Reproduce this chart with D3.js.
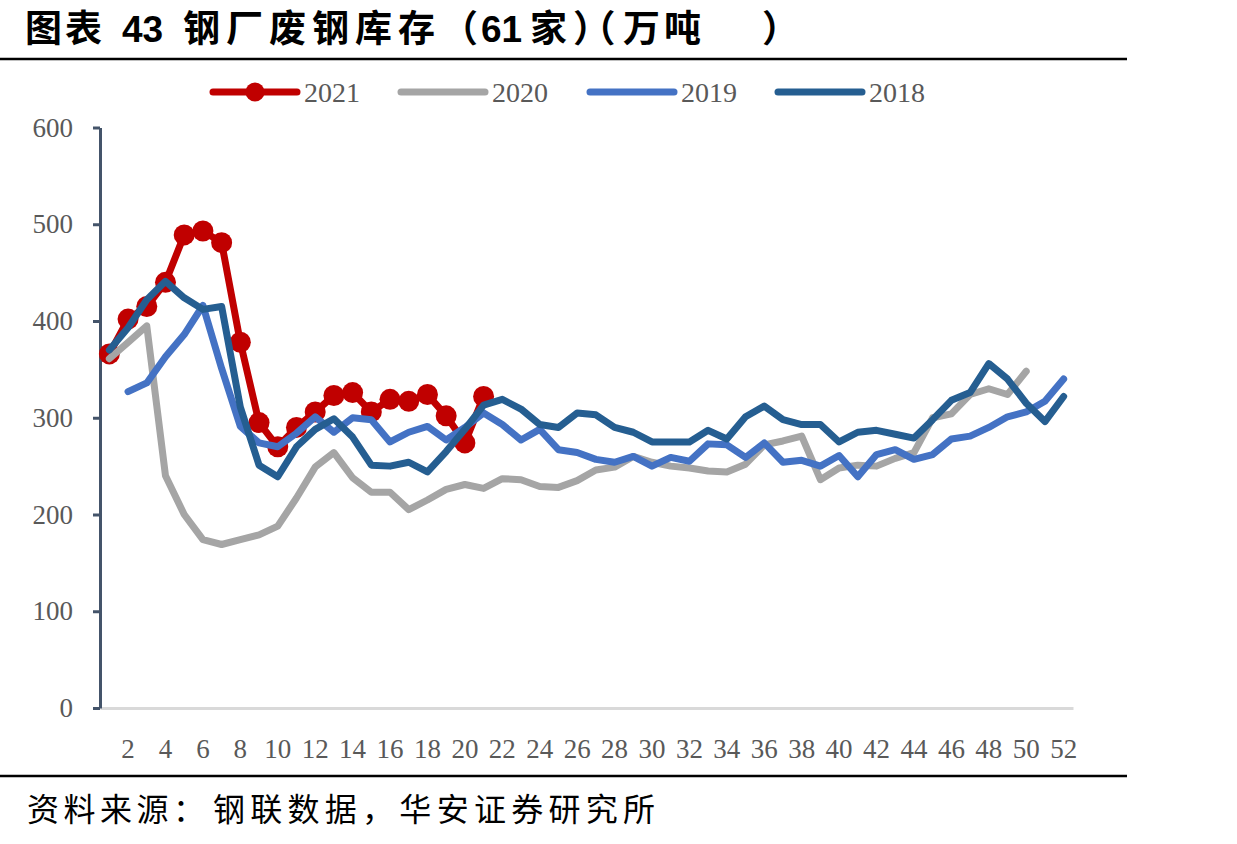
<!DOCTYPE html>
<html>
<head>
<meta charset="utf-8">
<script src="https://cdn.jsdelivr.net/npm/d3@7"></script>
<style>
  body { margin: 0; background: #fff; }
  svg text { font-family: "Liberation Serif", "DejaVu Serif", serif; }
</style>
</head>
<body>
<div id="chart"></div>
<script>
// weeks (categories) and series values
var weeks = d3.range(1, 53);
var xTickLabels = d3.range(2, 53, 2);
var yTicks = [0, 100, 200, 300, 400, 500, 600];
var seriesNames = ['2021', '2020', '2019', '2018'];
var seriesColors = ['#C00000', '#A5A5A5', '#4472C4', '#255E91'];

var v2021 = [366, 402, 415, 440, 489, 493, 481, 378, 295, 270, 290, 306, 323, 326, 306, 319, 317, 324, 302, 274, 322];
var v2020 = [361, 378, 395, 240, 200, 174, 169, 174, 179, 188, 217, 249, 264, 238, 223, 223, 205, 215, 226, 231,
             227, 237, 236, 229, 228, 235, 246, 249, 260, 254, 250, 248, 245, 244, 252, 272, 276, 281, 236, 248,
             251, 250, 258, 264, 300, 304, 324, 330, 324, 348];
var v2019 = [null, 327, 336, 363, 386, 416, 351, 291, 274, 270, 284, 301, 285, 300, 298, 275, 285, 291, 277, 290,
             305, 293, 277, 288, 267, 264, 257, 254, 260, 250, 259, 255, 273, 272, 259, 274, 254, 256, 250, 261,
             239, 262, 267, 257, 262, 278, 281, 290, 301, 306, 317, 340];
var v2018 = [370, 393, 422, 441, 424, 412, 415, 311, 251, 239, 270, 288, 299, 280, 251, 250, 254, 244, 265, 288,
             313, 319, 309, 293, 290, 305, 303, 290, 285, 275, 275, 275, 287, 278, 301, 312, 298, 293, 293, 275,
             285, 287, 283, 279, 298, 318, 326, 356, 340, 315, 296, 322];

var seriesValues = [v2021, v2020, v2019, v2018];

var width = 1237, height = 844;

var svg = d3.select('#chart')
  .append('svg')
  .attr('width', width)
  .attr('height', height);

// title
var title = svg.append('text')
  .attr('y', 42)
  .style('font-size', '37px')
  .style('font-weight', 'bold')
  .style('fill', '#000');
var cjk = '"Noto Sans CJK SC", sans-serif';
var num = '"Liberation Sans", Arial, sans-serif';
[
  { t: '图表', x: 25, f: cjk, ls: 3 },
  { t: '43', x: 122, f: num, ls: 0 },
  { t: '钢厂废钢库存', x: 183, f: cjk, ls: 6 },
  { t: '（', x: 441, f: cjk, ls: 0 },
  { t: '61', x: 481, f: num, ls: 0 },
  { t: '家', x: 530, f: cjk, ls: 0 },
  { t: '）（', x: 573, f: cjk, ls: -13 },
  { t: '万吨', x: 623, f: cjk, ls: 4 },
  { t: '）', x: 762, f: cjk, ls: 0 }
].forEach(function(p) {
  title.append('tspan')
    .attr('x', p.x)
    .style('font-family', p.f)
    .style('letter-spacing', p.ls + 'px')
    .text(p.t);
});

// rules above and below the chart
svg.append('line').attr('x1', 0).attr('x2', 1127).attr('y1', 59).attr('y2', 59)
  .style('stroke', '#000').style('stroke-width', 2.5);
svg.append('line').attr('x1', 0).attr('x2', 1127).attr('y1', 776).attr('y2', 776)
  .style('stroke', '#000').style('stroke-width', 2.5);

// source
var source = svg.append('text')
  .attr('y', 821)
  .style('font-size', '32px')
  .style('font-family', cjk)
  .style('fill', '#000');
source.append('tspan').attr('x', 27).attr('textLength', 178).attr('lengthAdjust', 'spacing').text('资料来源：');
source.append('tspan').attr('x', 213).attr('textLength', 442).attr('lengthAdjust', 'spacing').text('钢联数据，华安证券研究所');

// scales
var x = d3.scaleBand().domain(weeks).range([100, 1073]);
var y = d3.scaleLinear().domain([0, 600]).range([708, 127.5]);
var cx = function(w) { return x(w) + x.bandwidth() / 2; };

// x axis: light baseline and every other week label
var xAxis = svg.append('g')
  .attr('transform', 'translate(0,708)')
  .call(d3.axisBottom(x).tickValues(xTickLabels).tickSize(0).tickSizeOuter(0).tickPadding(31));
xAxis.select('.domain').style('stroke', '#D9D9D9').style('stroke-width', 3);
xAxis.selectAll('text')
  .style('font-family', '"Liberation Serif", serif')
  .style('font-size', '27px')
  .style('fill', '#595959');

// y axis
var yAxis = svg.append('g')
  .attr('transform', 'translate(100,0)')
  .call(d3.axisLeft(y).tickValues(yTicks).tickSize(7).tickSizeOuter(0).tickPadding(20));
yAxis.select('.domain').style('stroke', '#44546A').style('stroke-width', 3);
yAxis.selectAll('.tick line').style('stroke', '#44546A').style('stroke-width', 3);
yAxis.selectAll('text')
  .style('font-family', '"Liberation Serif", serif')
  .style('font-size', '27px')
  .style('fill', '#595959');

// lines
var line = d3.line()
  .defined(function(d) { return d != null; })
  .x(function(d, i) { return cx(weeks[i]); })
  .y(function(d) { return y(d); });

seriesValues.forEach(function(vals, k) {
  svg.append('path')
    .datum(vals)
    .attr('d', line)
    .style('fill', 'none')
    .style('stroke', seriesColors[k])
    .style('stroke-width', 7)
    .style('stroke-linejoin', 'round')
    .style('stroke-linecap', 'round');

  if (k === 0) {
    svg.append('g').selectAll('circle')
      .data(vals)
      .enter()
      .append('circle')
      .attr('cx', function(d, i) { return cx(weeks[i]); })
      .attr('cy', function(d) { return y(d); })
      .attr('r', 10.5)
      .style('fill', seriesColors[k]);
  }
});

// legend
var legendX = [213, 401, 590, 778];
var legend = svg.selectAll('.legend')
  .data(seriesNames)
  .enter()
  .append('g')
  .attr('class', 'legend')
  .attr('transform', function(d, i) { return 'translate(' + legendX[i] + ',92)'; });

legend.append('line')
  .attr('x1', 0).attr('x2', 84)
  .style('stroke', function(d, i) { return seriesColors[i]; })
  .style('stroke-width', 7)
  .style('stroke-linecap', 'round');

legend.filter(function(d, i) { return i === 0; })
  .append('circle')
  .attr('cx', 42).attr('r', 9.5)
  .style('fill', seriesColors[0]);

legend.append('text')
  .attr('x', 91)
  .attr('y', 10)
  .style('font-size', '28px')
  .style('fill', '#595959')
  .text(function(d) { return d; });
</script>
</body>
</html>
